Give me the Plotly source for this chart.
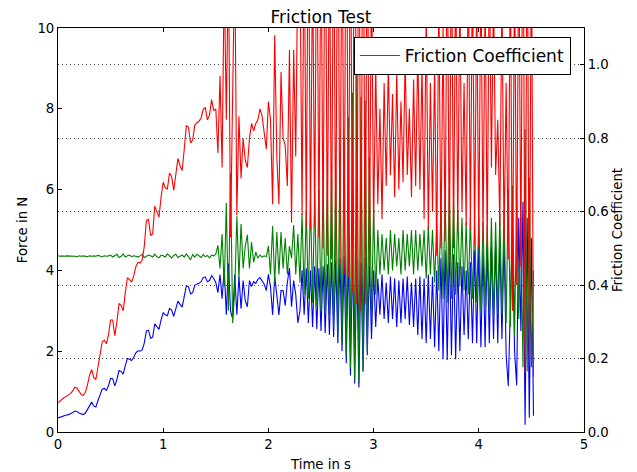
import plotly.graph_objects as go

# Sampling interval of the recorded signals (seconds)
SAMPLE_INTERVAL_S = 0.02

# Friction force in N (blue)
friction_force = [
    0.35, 0.37, 0.39, 0.41, 0.42, 0.43, 0.45, 0.48, 0.52, 0.51,
    0.47, 0.44, 0.43, 0.47, 0.56, 0.67, 0.74, 0.64, 0.62, 0.78,
    0.92, 1.06, 1.08, 1.03, 1.15, 1.33, 1.32, 1.14, 1.30, 1.52,
    1.50, 1.43, 1.65, 1.82, 1.80, 1.77, 1.85, 1.96, 2.01, 2.00,
    2.03, 2.20, 2.50, 2.52, 2.32, 2.35, 2.68, 2.62, 2.54, 2.78,
    2.95, 2.90, 2.88, 3.06, 3.02, 2.86, 3.02, 3.24, 3.16, 3.09,
    3.35, 3.62, 3.60, 3.42, 3.45, 3.63, 3.66, 3.68, 3.72, 3.82,
    3.84, 3.72, 3.75, 3.87, 3.80, 3.70,
    3.45, 3.90, 3.30, 4.05, 2.90, 4.17, 3.00, 2.80, 3.90, 2.90,
    3.85, 3.05, 3.75, 3.25, 3.10, 3.75, 3.60, 3.72, 3.68, 3.78,
    3.82, 3.74, 3.66, 3.50,
    3.90, 3.60, 2.90, 3.86, 3.30, 2.90, 3.50, 3.50, 3.13, 3.70,
    4.06, 3.10, 3.75, 3.40, 2.70,
    3.00, 4.00, 2.90, 4.05, 2.70, 4.00, 2.60, 4.10, 2.55, 4.05,
    2.50, 4.10, 2.45, 4.15, 2.40, 4.20, 2.35, 4.25, 2.20, 4.30,
    2.00, 4.35, 1.70, 4.40, 1.40, 4.40, 1.20, 4.30, 1.10, 4.20,
    1.50,
    4.30, 1.90, 4.20, 2.30, 4.00, 2.60, 3.80, 2.90, 3.90, 2.80,
    3.70, 2.70, 3.85, 2.80, 3.80, 2.60, 3.75, 2.70, 3.80, 2.80,
    3.85, 2.65, 3.70, 2.60, 3.80, 2.40, 3.85, 2.30, 3.80, 2.20,
    3.90, 2.30, 3.85, 2.10, 4.00,
    2.00, 4.30, 1.80, 4.50, 1.78, 4.70, 1.90, 4.40, 1.80, 4.20,
    2.00, 4.10, 2.40, 4.00, 2.30, 4.20, 2.20, 4.50, 2.20, 4.60,
    2.10, 4.50, 2.10, 4.60, 2.20, 4.60, 2.30, 4.70, 2.20, 4.70,
    2.30, 4.80, 1.90, 1.14, 3.20,
    5.00, 2.00, 1.16, 5.30, 2.50, 5.70, 0.18, 5.30, 0.35, 4.80,
    0.40,
]

# Normal force in N (green)
normal_force = [
    4.36, 4.35, 4.36, 4.35, 4.36, 4.36, 4.35, 4.36, 4.35, 4.34,
    4.36, 4.35, 4.36, 4.35, 4.34, 4.36, 4.35, 4.36, 4.35, 4.37,
    4.35, 4.34, 4.36, 4.35, 4.36,
    4.38, 4.33, 4.36, 4.40, 4.32, 4.35, 4.41, 4.33, 4.36, 4.38,
    4.34, 4.36, 4.35, 4.33, 4.36, 4.40, 4.32, 4.35, 4.38, 4.36,
    4.33, 4.40, 4.34, 4.31, 4.38, 4.36,
    4.33, 4.41, 4.35, 4.31, 4.37, 4.40, 4.32, 4.36, 4.38, 4.33,
    4.41, 4.34, 4.26, 4.39, 4.33, 4.40, 4.35, 4.32, 4.39, 4.34,
    4.37, 4.31, 4.38, 4.36, 4.40,
    4.62, 4.05, 4.90, 3.60, 5.67, 3.00, 6.40, 2.70, 3.50, 5.34,
    3.80, 5.15, 4.05, 4.60, 4.88, 4.05, 4.70, 4.20, 4.45, 4.30,
    4.38, 4.33, 4.36, 4.34,
    4.60, 3.90, 5.10, 3.70, 4.95, 3.90, 4.95, 4.05, 4.80, 3.90,
    4.60, 4.30, 5.12, 3.90, 4.90,
    3.70, 5.40, 3.40, 5.50, 3.30, 5.80, 3.20, 5.90, 3.10, 6.00,
    3.00, 6.10, 2.90, 6.20, 2.80, 6.30, 2.60, 6.50, 2.40, 6.80,
    2.20, 7.30, 1.90, 7.80, 1.60, 8.40, 1.30, 8.90, 1.20, 8.30,
    1.50,
    8.20, 2.00, 6.80, 2.80, 5.50, 3.40, 5.00, 3.90, 4.90, 4.00,
    4.80, 3.90, 5.00, 4.00, 4.90, 4.10, 4.80, 3.90, 5.00, 4.00,
    4.90, 4.10, 5.00, 3.90, 5.00, 4.00, 4.90, 4.10, 5.00, 3.80,
    5.10, 3.90, 5.00, 3.70, 5.20,
    3.50, 5.60, 3.30, 5.80, 3.20, 6.00, 3.30, 5.70, 3.40, 5.50,
    3.60, 5.30, 3.50, 5.20, 3.40, 5.30, 3.30, 5.20, 3.20, 5.30,
    3.00, 5.20, 3.10, 5.10, 2.90, 5.30, 2.80, 5.20, 2.90, 5.40,
    2.90, 5.50, 2.70, 6.00, 2.60,
    6.10, 2.40, 5.70, 2.80, 5.30, 1.60, 7.50, 1.50, 6.30, 1.60,
    4.00,
]

# Friction coefficient (red, right axis)
friction_coeff = [
    0.080, 0.085, 0.090, 0.094, 0.097, 0.100, 0.105, 0.112, 0.122, 0.120,
    0.110, 0.102, 0.100, 0.108, 0.128, 0.155, 0.170, 0.148, 0.143, 0.180,
    0.215, 0.245, 0.250, 0.240, 0.265, 0.305, 0.305, 0.262, 0.300, 0.350,
    0.345, 0.330, 0.380, 0.420, 0.415, 0.408, 0.425, 0.450, 0.462, 0.460,
    0.468, 0.505, 0.575, 0.580, 0.535, 0.540, 0.615, 0.600, 0.585, 0.640,
    0.680, 0.665, 0.662, 0.705, 0.695, 0.658, 0.695, 0.745, 0.725, 0.712,
    0.770, 0.835, 0.830, 0.787, 0.795, 0.835, 0.842, 0.846, 0.855, 0.878,
    0.884, 0.850, 0.862, 0.905, 0.875, 0.880,
    0.76, 0.97, 0.72, 1.25, 0.85, 1.30, 0.53, 0.95, 1.30, 0.59,
    0.86, 0.69, 0.80, 0.74, 0.72, 0.80, 0.84, 0.82, 0.84, 0.85,
    0.88, 0.86, 0.82, 0.77,
    0.90, 0.85, 0.62, 1.08, 0.75, 0.62, 0.98, 0.80, 0.78, 0.67,
    1.04, 0.57, 1.04, 0.75, 1.30,
    1.30, 0.59, 1.40, 0.56, 1.50, 0.55, 1.30, 0.56, 1.50, 0.53,
    1.40, 0.50, 1.60, 0.48, 1.40, 0.47, 1.50, 0.46, 1.60, 0.45,
    1.50, 0.43, 1.70, 0.42, 1.50, 0.38, 1.80, 0.35, 1.60, 0.33,
    1.70,
    0.35, 1.50, 0.45, 1.30, 0.55, 1.00, 0.62, 0.88, 0.58, 0.95,
    0.67, 1.00, 0.70, 0.92, 0.64, 0.98, 0.66, 0.90, 0.68, 1.02,
    0.70, 0.88, 0.64, 0.96, 0.67, 1.05, 0.66, 1.00, 0.58, 1.15,
    0.55, 0.95, 0.60, 1.00, 0.48,
    1.20, 0.50, 1.10, 0.52, 1.40, 0.46, 1.40, 0.50, 1.30, 0.55,
    1.20, 0.60, 0.95, 0.56, 1.30, 0.55, 1.30, 0.51, 1.20, 0.50,
    1.30, 0.52, 1.20, 0.50, 1.30, 0.72, 1.20, 0.70, 0.85, 0.56,
    1.20, 0.52, 0.95, 0.47, 1.30,
    0.33, 1.30, 0.40, 1.40, 0.45, 1.60, 0.16, 1.50, 0.20, 1.40,
    0.15,
]

x_tick_values = [0, 1, 2, 3, 4, 5]
left_tick_values = [0, 2, 4, 6, 8, 10]
right_tick_values = [0.0, 0.2, 0.4, 0.6, 0.8, 1.0]
right_tick_labels = ["0.0", "0.2", "0.4", "0.6", "0.8", "1.0"]


def sample_times(values):
    return [round(i * SAMPLE_INTERVAL_S, 4) for i in range(len(values))]


FONT = "DejaVu Sans"
FS = 13.3      # tick labels and axis labels
FS_BIG = 17    # title and legend

fig = go.Figure()
fig.add_trace(go.Scatter(
    x=sample_times(friction_force), y=friction_force, mode="lines",
    name="Friction Force", line=dict(color="#0000ff", width=1.1),
    showlegend=False,
))
fig.add_trace(go.Scatter(
    x=sample_times(normal_force), y=normal_force, mode="lines",
    name="Normal Force", line=dict(color="#008000", width=1.1),
    showlegend=False,
))
fig.add_trace(go.Scatter(
    x=sample_times(friction_coeff), y=friction_coeff, mode="lines",
    name="Friction Coefficient", line=dict(color="#ff0000", width=1.1),
    yaxis="y2",
))

axis_common = dict(
    ticks="inside", ticklen=4, tickwidth=1, tickcolor="black",
    showline=True, linecolor="black", linewidth=1,
    zeroline=False, automargin=False,
    tickfont=dict(family=FONT, size=FS, color="black"),
)

fig.update_layout(
    width=637, height=472,
    margin=dict(l=58, r=53, t=28, b=40),
    paper_bgcolor="white", plot_bgcolor="white",
    font=dict(family=FONT, size=FS, color="black"),
    title=dict(text="Friction Test", x=0.5, xref="paper", xanchor="center",
               y=1 - 17 / 472, yref="container", yanchor="middle",
               font=dict(family=FONT, size=FS_BIG, color="black")),
    xaxis=dict(range=[0, 5], tickvals=x_tick_values, mirror="ticks",
               showgrid=False,
               title=dict(text="Time in s", standoff=9,
                          font=dict(family=FONT, size=FS)),
               **axis_common),
    yaxis=dict(range=[0, 10], tickvals=left_tick_values, showgrid=False,
               title=dict(text="Force in N", standoff=6,
                          font=dict(family=FONT, size=FS)),
               **axis_common),
    yaxis2=dict(range=[0, 1.1], tickvals=right_tick_values,
                ticktext=right_tick_labels, overlaying="y", side="right",
                showgrid=True, gridcolor="rgba(0,0,0,0.7)", gridwidth=1,
                griddash="1px,3px",
                title=dict(text="Friction Coefficient", standoff=4,
                           font=dict(family=FONT, size=FS)),
                **axis_common),
    legend=dict(x=0.975, y=0.978, xanchor="right", yanchor="top",
                bgcolor="white", bordercolor="black", borderwidth=1,
                itemwidth=40,
                font=dict(family=FONT, size=FS_BIG, color="black")),
)

fig.write_html("out.html",
               config={"displayModeBar": False},
               post_script="document.body.style.margin='0';")
